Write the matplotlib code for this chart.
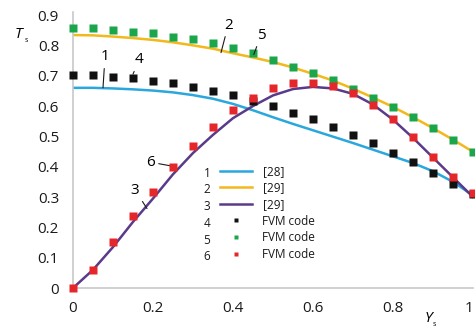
import numpy as np
import matplotlib
matplotlib.use("Agg")
import matplotlib.pyplot as plt
from matplotlib.lines import Line2D

plt.rcParams["font.family"] = ["Open Sans", "DejaVu Sans"]

# abscissa shared by all series
ys = [0.0, 0.05, 0.1, 0.15, 0.2, 0.25, 0.3, 0.35, 0.4, 0.45, 0.5,
      0.55, 0.6, 0.65, 0.7, 0.75, 0.8, 0.85, 0.9, 0.95, 1.0]

# curves from literature
ref28_1 = [0.660, 0.660, 0.658, 0.655, 0.651, 0.645, 0.636, 0.624, 0.607, 0.586, 0.563,
           0.541, 0.520, 0.499, 0.478, 0.456, 0.434, 0.412, 0.385, 0.350, 0.305]
ref29_2 = [0.834, 0.833, 0.829, 0.824, 0.818, 0.810, 0.800, 0.789, 0.774, 0.760, 0.745,
           0.727, 0.706, 0.684, 0.657, 0.628, 0.597, 0.563, 0.527, 0.489, 0.449]
ref29_3 = [0.000, 0.060, 0.135, 0.218, 0.295, 0.375, 0.445, 0.505, 0.560, 0.600, 0.635,
           0.656, 0.663, 0.658, 0.640, 0.605, 0.555, 0.495, 0.430, 0.365, 0.300]

# FVM code results
fvm_4 = [0.702, 0.702, 0.697, 0.691, 0.684, 0.675, 0.664, 0.651, 0.636, 0.615, 0.600,
         0.578, 0.557, 0.532, 0.504, 0.478, 0.446, 0.415, 0.380, 0.343, 0.310]
fvm_5 = [0.856, 0.856, 0.851, 0.845, 0.840, 0.829, 0.820, 0.807, 0.790, 0.775, 0.752,
         0.730, 0.710, 0.686, 0.655, 0.625, 0.596, 0.563, 0.527, 0.488, 0.449]
fvm_6 = [0.000, 0.060, 0.151, 0.236, 0.318, 0.398, 0.469, 0.532, 0.587, 0.625, 0.658,
         0.677, 0.677, 0.666, 0.644, 0.603, 0.556, 0.499, 0.433, 0.367, 0.312]

xticks = [0, 0.2, 0.4, 0.6, 0.8, 1]
xticklabels = ["0", "0.2", "0.4", "0.6", "0.8", "1"]
yticks = [0, 0.1, 0.2, 0.3, 0.4, 0.5, 0.6, 0.7, 0.8, 0.9]
yticklabels = ["0", "0.1", "0.2", "0.3", "0.4", "0.5", "0.6", "0.7", "0.8", "0.9"]

legend_nums = ["1", "2", "3", "4", "5", "6"]
legend_labels = ["[28]", "[29]", "[29]", "FVM code", "FVM code", "FVM code"]

# curve number callouts: (label, point on curve, text position)
callouts = [("1", (0.075, 0.660), (0.080, 0.762)),
            ("4", (0.150, 0.705), (0.165, 0.752)),
            ("2", (0.370, 0.776), (0.388, 0.867)),
            ("5", (0.452, 0.770), (0.470, 0.834)),
            ("6", (0.243, 0.403), (0.193, 0.415)),
            ("3", (0.185, 0.262), (0.155, 0.323))]

c_blue, c_yel, c_pur = "#2aa7dd", "#f2b81c", "#5a3a8a"
c_blk, c_grn, c_red = "#111111", "#1ba64b", "#e5262b"

W, H = 475, 329
fig = plt.figure(figsize=(W / 100, H / 100), dpi=100)
ax = fig.add_axes([73 / W, (H - 288) / H, 400 / W, 276 / H])

ax.plot(ys, ref28_1, color=c_blue, lw=1.8, zorder=2)
ax.plot(ys, ref29_2, color=c_yel, lw=1.8, zorder=2)
ax.plot(ys, ref29_3, color=c_pur, lw=1.8, zorder=2)
ms = 5.8
ax.plot(ys, fvm_4, ls="none", marker="s", ms=ms, color=c_blk, mec="none", zorder=3, clip_on=False)
ax.plot(ys, fvm_5, ls="none", marker="s", ms=ms, color=c_grn, mec="none", zorder=3, clip_on=False)
ax.plot(ys, fvm_6, ls="none", marker="s", ms=ms, color=c_red, mec="none", zorder=4, clip_on=False)

ax.set_xlim(0, 1)
ax.set_ylim(0, 0.91)
ax.set_xticks(xticks)
ax.set_xticklabels(xticklabels)
ax.set_yticks(yticks)
ax.set_yticklabels(yticklabels)
ax.tick_params(length=0, labelsize=11, colors="#1a1a1a")
ax.tick_params(axis="y", pad=10)
ax.tick_params(axis="x", pad=9)
# last x label sits on the right edge of the picture
ax.get_xticklabels()[-1].set_horizontalalignment("right")
for s in ["top", "right"]:
    ax.spines[s].set_visible(False)
for s in ["left", "bottom"]:
    ax.spines[s].set_color("#c8c8c8")
    ax.spines[s].set_linewidth(1.2)

for lab, xy, xt in callouts:
    ax.annotate(lab, xy=xy, xytext=xt, ha="center", va="center", fontsize=11,
                arrowprops=dict(arrowstyle="-", color="#1a1a1a", lw=0.8,
                                shrinkA=1, shrinkB=0))

# legend
handles = [Line2D([], [], color=c_blue, lw=1.8),
           Line2D([], [], color=c_yel, lw=1.8),
           Line2D([], [], color=c_pur, lw=1.8),
           Line2D([], [], ls="none", marker="s", ms=ms, color=c_blk, mec="none"),
           Line2D([], [], ls="none", marker="s", ms=ms, color=c_grn, mec="none"),
           Line2D([], [], ls="none", marker="s", ms=ms, color=c_red, mec="none")]
leg = ax.legend(handles, legend_labels, loc="upper left", frameon=False,
                bbox_to_anchor=(220 / W, 1 - 165 / H), bbox_transform=fig.transFigure,
                fontsize=8.5, handlelength=2.7, handletextpad=0.9, labelspacing=0.3,
                borderpad=0, borderaxespad=0, markerscale=0.62)
for t in leg.get_texts():
    t.set_color("#1a1a1a")
for i, n in enumerate(legend_nums):
    fig.text(207 / W, 1 - (173 + i * 16.8) / H, n, ha="center", va="center",
             fontsize=8.5, color="#1a1a1a")

# axis labels with small subscripts
fig.text(18 / W, 1 - 35 / H, "T", fontsize=11, style="italic", ha="center", va="center")
fig.text(26 / W, 1 - 40 / H, "s", fontsize=5, ha="center", va="center")
fig.text(428 / W, 1 - 318 / H, "Y", fontsize=11, style="italic", ha="center", va="center")
fig.text(434 / W, 1 - 324 / H, "s", fontsize=5, ha="center", va="center")

fig.savefig("out.png", dpi=100)
